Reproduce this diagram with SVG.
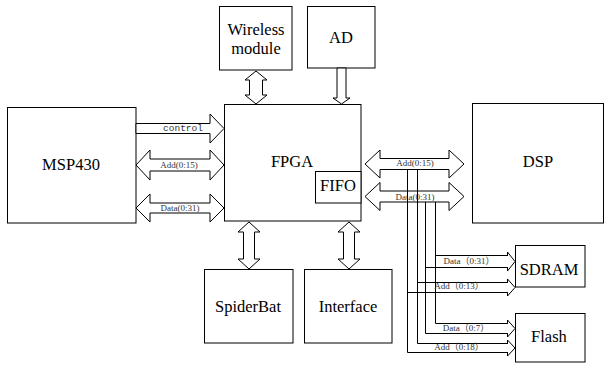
<svg xmlns="http://www.w3.org/2000/svg" width="604" height="365" viewBox="0 0 604 365">
<style>
.box{fill:#fff;stroke:#000;stroke-width:1}
.arr{fill:#fff;stroke:#000;stroke-width:1;stroke-linejoin:miter}
.bus{fill:none;stroke:#000;stroke-width:1}
.t{font-family:"Liberation Serif","Times New Roman",serif;font-size:16.5px;fill:#000;text-anchor:middle}
.s{font-family:"Liberation Serif","Times New Roman","Noto Sans CJK SC",serif;font-size:9px;fill:#333;text-anchor:middle}
.m{font-family:"Liberation Mono","Courier New",monospace;font-size:9.5px;fill:#333;text-anchor:middle}
</style>
<rect width="604" height="365" fill="#fff"/>
<g id="MSP430"><rect class="box" x="7.5" y="107.5" width="128.5" height="115.5"/><text class="t" x="71" y="170">MSP430</text></g>
<g id="FPGA"><rect class="box" x="224.5" y="104.5" width="136.5" height="116.5"/><text class="t" x="292" y="167">FPGA</text></g>
<g id="FIFO"><rect class="box" x="315.5" y="171.5" width="45.5" height="31.5"/><text class="t" x="338" y="191">FIFO</text></g>
<g id="Wireless"><rect class="box" x="219.5" y="6.5" width="72.5" height="63.5"/><text class="t" x="256" y="35">Wireless</text><text class="t" x="256" y="54">module</text></g>
<g id="AD"><rect class="box" x="307.5" y="6.5" width="67.5" height="61.5"/><text class="t" x="341" y="43">AD</text></g>
<g id="DSP"><rect class="box" x="472.5" y="103.5" width="131" height="119.5"/><text class="t" x="538" y="167">DSP</text></g>
<g id="SDRAM"><rect class="box" x="515.5" y="245.5" width="69.5" height="41.5"/><text class="t" x="549" y="275">SDRAM</text></g>
<g id="Flash"><rect class="box" x="515.5" y="313.5" width="69.5" height="48.5"/><text class="t" x="549" y="342">Flash</text></g>
<g id="SpiderBat"><rect class="box" x="204.5" y="269.5" width="88.5" height="73.5"/><text class="t" x="248" y="312">SpiderBat</text></g>
<g id="Interface"><rect class="box" x="304.5" y="269.5" width="87.5" height="73.5"/><text class="t" x="348" y="312">Interface</text></g>
<g id="connectors">
<polygon class="arr" points="136,123.5 210,123.5 210,114 224,128.5 210,143 210,133.5 136,133.5"/>
<text class="m" x="183" y="131">control</text>
<polygon class="arr" points="136,165 150,150 150,159 210,159 210,150 224,165 210,180 210,171 150,171 150,180"/>
<text class="s" x="179" y="168">Add(0:15)</text>
<polygon class="arr" points="136,208 150,194 150,203 210,203 210,194 224,208 210,222 210,213 150,213 150,222"/>
<text class="s" x="180" y="211">Data(0:31)</text>
<polygon class="arr" points="365,164 380,150 380,158.5 449,158.5 449,150 464,164 449,178 449,169.5 380,169.5 380,178"/>
<text class="s" x="415" y="166">Add(0:15)</text>
<polygon class="arr" points="365,196.5 380,182.5 380,191 449,191 449,182.5 464,196.5 449,210.5 449,202 380,202 380,210.5"/>
<text class="s" x="415" y="200">Data(0:31)</text>
<polygon class="arr" points="256,71 267,80 262.5,80 262.5,95 267,95 256,104 245,95 249.5,95 249.5,80 245,80"/>
<polygon class="arr" points="337,68 346,68 346,98 350,98 341.5,104 333,98 337,98"/>
<polygon class="arr" points="249,222 260,232 254.5,232 254.5,259 260,259 249,269 238,259 243.5,259 243.5,232 238,232"/>
<polygon class="arr" points="349,222 360,232 354.5,232 354.5,259 360,259 349,269 338,259 343.5,259 343.5,232 338,232"/>
<path class="bus" d="M407.5,169.5V352.5H508M407.5,292.5H508M417.5,169.5V343.5H508M417.5,282.5H508M425.5,202V333.5H508M425.5,267.5H508M435.5,202V323.5H508M435.5,255.5H508"/>
<polyline class="bus" points="507.5,255.5 507.5,252 515,261.5 507.5,271 507.5,267.5"/>
<polyline class="bus" points="507.5,282.5 507.5,279 515,287.5 507.5,296 507.5,292.5"/>
<polyline class="bus" points="507.5,323.5 507.5,320 515,328.5 507.5,337 507.5,333.5"/>
<polyline class="bus" points="507.5,343.5 507.5,340 515,348 507.5,356 507.5,352.5"/>
<text class="s" x="469" y="264">Data（0:31）</text>
<text class="s" x="459" y="289">Add（0:13）</text>
<text class="s" x="466" y="331">Data（0:7）</text>
<text class="s" x="459" y="350">Add（0:18）</text>
</g>
</svg>
